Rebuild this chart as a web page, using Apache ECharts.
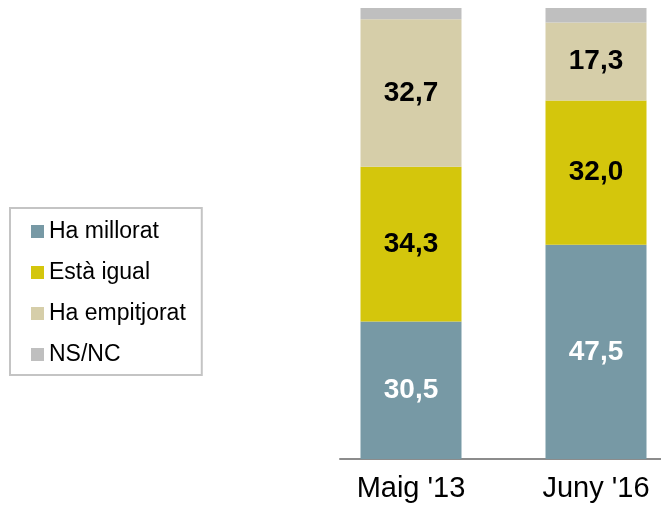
<!DOCTYPE html>
<html>
<head>
<meta charset="utf-8">
<script src="https://cdn.jsdelivr.net/npm/echarts@6/dist/echarts.min.js"></script>
<style>
html, body { margin: 0; padding: 0; background: #fff; }
#chart { width: 661px; height: 509px; }
</style>
</head>
<body>
<div id="chart"></div>
<script>
var categories = ["Maig '13", "Juny '16"];
var seriesNames = ['Ha millorat', 'Està igual', 'Ha empitjorat', 'NS/NC'];
var millorat = [30.5, 47.5];
var igual = [34.3, 32.0];
var empitjorat = [32.7, 17.3];
var nsnc = [2.5, 3.2];

var colors = ['#7799a5', '#d4c60c', '#d6cea9', '#bfbfbf'];
var labelColors = ['#fff', '#000', '#000', null];
var values = [millorat, igual, empitjorat, nsnc];
var font = 'Arial, "Liberation Sans", sans-serif';

function fmt(p) {
	return p.value.toFixed(1).replace('.', ',');
}

var series = seriesNames.map(function(name, i) {
	return {
		name: name,
		type: 'bar',
		stack: 'total',
		barWidth: 101,
		xAxisIndex: 0,
		yAxisIndex: 0,
		itemStyle: { color: colors[i] },
		label: {
			show: labelColors[i] != null,
			position: 'inside',
			formatter: fmt,
			color: labelColors[i] || '#000',
			fontSize: 28,
			fontWeight: 'bold',
			fontFamily: font
		},
		emphasis: { disabled: true },
		data: values[i]
	};
});

var chart = echarts.init(document.getElementById('chart'));
chart.setOption({
	animation: false,
	color: colors,
	legend: {
		orient: 'vertical',
		left: 10,
		top: 208,
		data: seriesNames,
		icon: 'rect',
		itemWidth: 13,
		itemHeight: 13,
		itemGap: 18,
		padding: [12, 16, 9, 21],
		borderColor: '#c4c4c4',
		borderWidth: 2,
		textStyle: { fontSize: 23, fontFamily: font, color: '#000' }
	},
	grid: [
		{ left: 318.5, width: 370, top: 8, height: 451, outerBoundsMode: 'none' },
		{ left: 340, right: 0, top: 8, height: 451, outerBoundsMode: 'none' }
	],
	xAxis: [
		{
			type: 'category',
			gridIndex: 0,
			data: categories,
			axisLine: { show: false },
			axisTick: { show: false },
			axisLabel: { fontSize: 29, fontFamily: font, color: '#000', margin: 15 }
		},
		{
			type: 'value',
			gridIndex: 1,
			axisLine: { show: true, onZero: false, lineStyle: { color: '#8c8c8c', width: 2 } },
			axisTick: { show: false },
			axisLabel: { show: false },
			splitLine: { show: false }
		}
	],
	yAxis: [
		{ type: 'value', gridIndex: 0, min: 0, max: 100, show: false },
		{ type: 'value', gridIndex: 1, min: 0, max: 100, show: false }
	],
	series: series
});
</script>
</body>
</html>
